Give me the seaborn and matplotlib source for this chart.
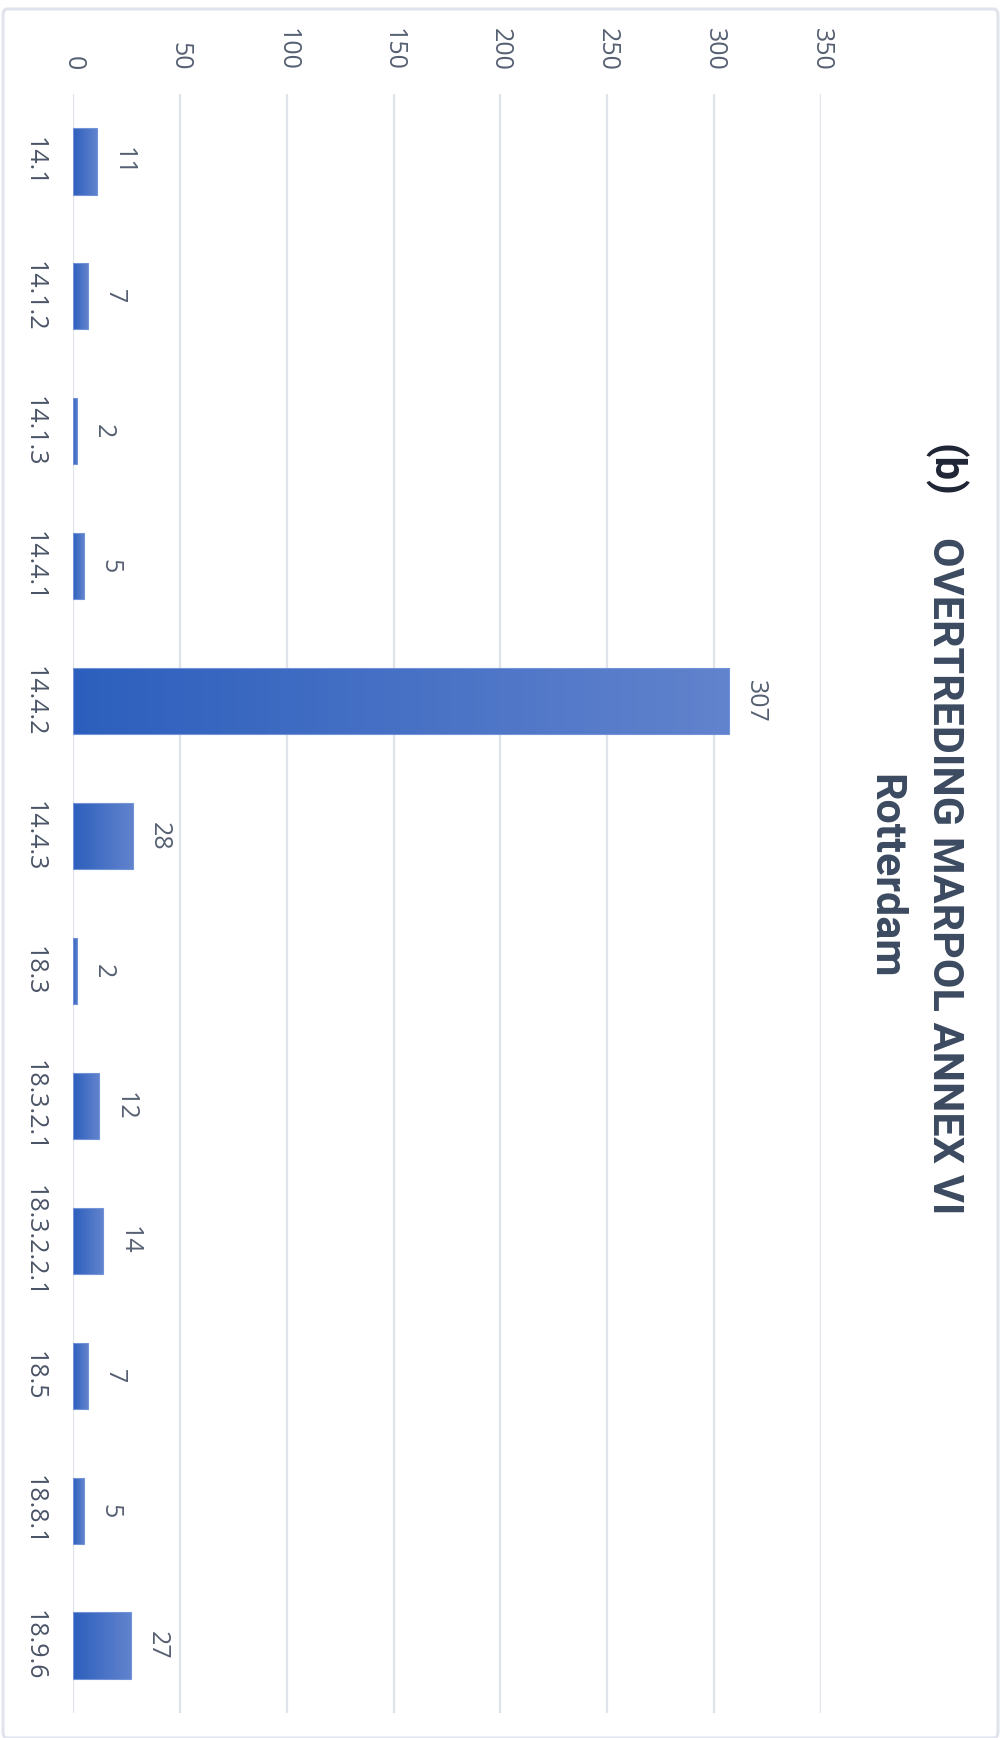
import numpy as np
import pandas as pd
import matplotlib
matplotlib.use("Agg")
import matplotlib.pyplot as plt
import seaborn as sns
from matplotlib.colors import LinearSegmentedColormap
from matplotlib.patches import FancyBboxPatch

# Violations per MARPOL Annex VI regulation (Rotterdam)
categories = ["14.1", "14.1.2", "14.1.3", "14.4.1", "14.4.2", "14.4.3",
              "18.3", "18.3.2.1", "18.3.2.2.1", "18.5", "18.8.1", "18.9.6"]
counts = [11, 7, 2, 5, 307, 28, 2, 12, 14, 7, 5, 27]
value_ticks = [0, 50, 100, 150, 200, 250, 300, 350]
title_main = "OVERTREDING MARPOL ANNEX VI"
title_sub = "Rotterdam"
panel_tag = "(b)"

sns.set_theme(style="white")
plt.rcParams["font.family"] = ["Open Sans", "DejaVu Sans"]

W, H = 1001, 1738
fig = plt.figure(figsize=(W / 100, H / 100), dpi=100)
fig.patch.set_facecolor("white")

# plot area in pixel terms: value 0 at x=73, 350 at x=821; rows span y=94..1713
ax = fig.add_axes([73 / W, 1 - 1713 / H, (821 - 73) / W, (1713 - 94) / H])

df = pd.DataFrame({"regel": categories, "aantal": counts})
sns.barplot(data=df, x="aantal", y="regel", orient="h", color="#3f6fc6",
            saturation=1, width=0.49, ax=ax, zorder=3)

ax.set_xlim(0, 350)
ylim = ax.get_ylim()

# horizontal gradient fill on every bar: deep blue at the base, lighter at the tip
cmap = LinearSegmentedColormap.from_list("bar_grad", ["#2c5fbd", "#6283cd"])
grad = np.linspace(0, 1, 256).reshape(1, -1)
for patch in ax.containers[0]:
    x0, y0 = patch.get_x(), patch.get_y()
    w, h = patch.get_width(), patch.get_height()
    im = ax.imshow(grad, extent=(x0, x0 + w, y0, y0 + h), aspect="auto",
                   cmap=cmap, zorder=3.5, interpolation="bilinear")
    im.set_clip_path(patch)
    patch.set_facecolor("none")
    patch.set_edgecolor("#7393d8")
    patch.set_linewidth(0.8)
    patch.set_zorder(4)

ax.set_xlim(0, 350)
ax.set_ylim(ylim)

# value labels beside each bar
ax.bar_label(ax.containers[0], labels=[str(v) for v in counts], padding=10,
             rotation=-90, fontsize=18, color="#566072")

# value axis on top, rotated labels
ax.xaxis.tick_top()
ax.set_xticks(value_ticks)
ax.set_xticklabels([str(t) for t in value_ticks], rotation=-90)
ax.tick_params(axis="x", length=0, pad=17, labelsize=18, labelcolor="#566072")
ax.tick_params(axis="y", length=0, pad=19, labelsize=18, labelcolor="#4a5466")
for lbl in ax.get_yticklabels():
    lbl.set_rotation(-90)
    lbl.set_va("center")
ax.grid(axis="x", color="#dfe3ea", linewidth=1.6)
ax.grid(axis="y", visible=False)
ax.set_axisbelow(True)
for s in ax.spines.values():
    s.set_visible(False)
ax.set_xlabel("")
ax.set_ylabel("")

# titles, rotated to read top-to-bottom on the right side
title_color = "#3b4a60"
fig.text(944 / W, 1 - 876 / H, title_main, rotation=-90, ha="center", va="center",
         fontsize=31, fontweight="bold", family=["Roboto", "DejaVu Sans"], color=title_color)
fig.text(885 / W, 1 - 876 / H, title_sub, rotation=-90, ha="center", va="center",
         fontsize=31, fontweight="bold", family=["Roboto", "DejaVu Sans"], color=title_color)
fig.text(944 / W, 1 - 470 / H, panel_tag, rotation=-90, ha="center", va="center",
         fontsize=30, fontweight="bold", family=["Roboto", "DejaVu Sans"], color="#1f2535")

# light frame around the whole chart
frame = FancyBboxPatch((3 / W, 0.0), (998 - 3) / W, 1 - 9 / H,
                       boxstyle="round,pad=0,rounding_size=0.004",
                       transform=fig.transFigure, facecolor="none",
                       edgecolor="#e1e4ec", linewidth=2.2, zorder=0)
fig.patches.append(frame)

fig.savefig("out.png", dpi=100)
